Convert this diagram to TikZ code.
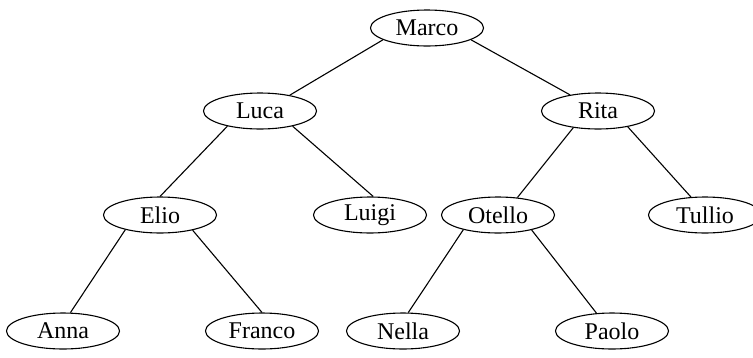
\documentclass[tikz,border=0pt]{standalone}
\usepackage{fontspec}
\setmainfont{Liberation Serif}
\usetikzlibrary{shapes.geometric}
\begin{document}
\begin{tikzpicture}[x=1pt,y=-1pt,
  person/.style={ellipse,draw,line width=1.1pt,minimum width=113pt,minimum height=36pt,inner sep=0pt,font=\fontsize{24}{27}\selectfont},
  link/.style={line width=1.1pt}]
\useasboundingbox (0,0) rectangle (753,357);
% family tree nodes
\node[person] (marco)  at (427,28)  {Marco};
\node[person] (luca)   at (260,111) {Luca};
\node[person] (rita)   at (598,111) {Rita};
\node[person] (elio)   at (160,215) {Elio};
\node[person] (luigi)  at (370,215) {Luigi};
\node[person] (otello) at (498,215) {Otello};
\node[person] (tullio) at (705,215) {Tullio};
\node[person] (anna)   at (63,331)  {Anna};
\node[person] (franco) at (262,331) {Franco};
\node[person] (nella)  at (403,331) {Nella};
\node[person] (paolo)  at (612,331) {Paolo};
% parent-child links
\draw[link] (marco.195) -- (luca.28);
\draw[link] (marco.345) -- (rita.150);
\draw[link] (luca.205) -- (elio.90);
\draw[link] (luca.335) -- (luigi.80);
\draw[link] (rita.214) -- (otello.42);
\draw[link] (rita.332) -- (tullio.128);
\draw[link] (elio.203) -- (anna.68);
\draw[link] (elio.335) -- (franco.90);
\draw[link] (otello.203) -- (nella.74);
\draw[link] (otello.336) -- (paolo.131);
\end{tikzpicture}
\end{document}
